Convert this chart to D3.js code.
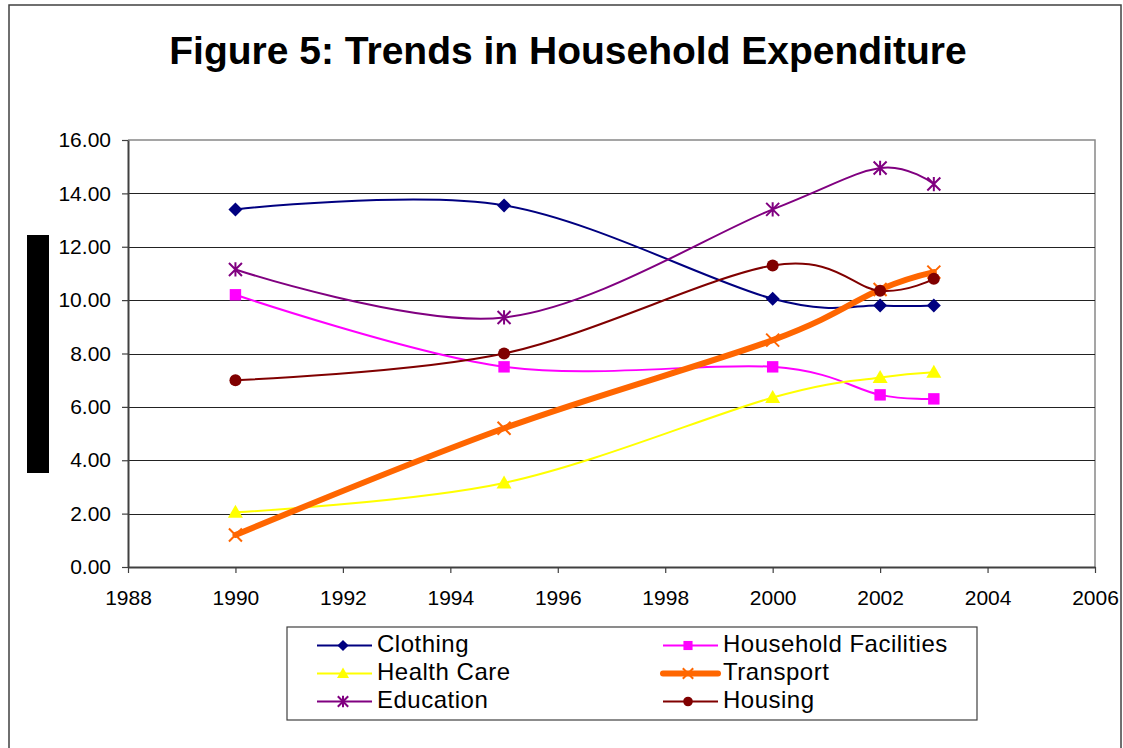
<!DOCTYPE html>
<html>
<head>
<meta charset="utf-8">
<script src="https://cdn.jsdelivr.net/npm/d3@7"></script>
<style>
  html, body { margin: 0; padding: 0; background: #fff; }
  svg { display: block; font-family: "Liberation Sans", Arial, sans-serif; }
</style>
</head>
<body>
<svg id="chart" width="1123" height="748"></svg>
<script>
// ---- Data ----
const years = [1990, 1995, 2000, 2002, 2003];
const clothing = [13.4, 13.55, 10.05, 9.8, 9.8];
const householdFacilities = [10.2, 7.5, 7.5, 6.45, 6.3];
const healthCare = [2.05, 3.15, 6.35, 7.1, 7.3];
const transport = [1.2, 5.2, 8.5, 10.4, 11.05];
const education = [11.15, 9.35, 13.4, 14.95, 14.35];
const housing = [7.0, 8.0, 11.3, 10.35, 10.8];
const seriesNames = ["Clothing", "Household Facilities", "Health Care", "Transport", "Education", "Housing"];
const yTicks = [0, 2, 4, 6, 8, 10, 12, 14, 16];
const xTicks = [1988, 1990, 1992, 1994, 1996, 1998, 2000, 2002, 2004, 2006];
const titleText = "Figure 5: Trends in Household Expenditure";

const seriesValues = [clothing, householdFacilities, healthCare, transport, education, housing];
const styles = [
  { color: "#000080", width: 2, marker: "diamond" },
  { color: "#FF00FF", width: 2, marker: "square" },
  { color: "#FFFF00", width: 2, marker: "triangle" },
  { color: "#FF6600", width: 6, marker: "x" },
  { color: "#800080", width: 2, marker: "star" },
  { color: "#800000", width: 2, marker: "circle" }
];

const svg = d3.select("#chart");

// Outer frame
svg.append("rect").attr("x", 9).attr("y", 5).attr("width", 1112).attr("height", 800)
  .attr("fill", "#fff").attr("stroke", "#404040").attr("stroke-width", 1.5);

// Title
svg.append("text").attr("x", 568).attr("y", 64).attr("text-anchor", "middle")
  .attr("font-size", 39).attr("font-weight", "bold").attr("fill", "#000").text(titleText);

// Black block (y-axis title placeholder)
svg.append("rect").attr("x", 27).attr("y", 235).attr("width", 22).attr("height", 238).attr("fill", "#000");

const x = d3.scaleLinear().domain([1988, 2006]).range([128, 1095]);
const y = d3.scaleLinear().domain([0, 16]).range([567, 140]);

// Plot border (top/right)
svg.append("path")
  .attr("d", `M${x(1988)},${y(16)}H${x(2006)}V${y(0)}`)
  .attr("fill", "none").attr("stroke", "#888").attr("stroke-width", 1.5);

// Gridlines
svg.append("g").selectAll("line").data(yTicks.filter(d => d > 0 && d < 16)).join("line")
  .attr("x1", x(1988)).attr("x2", x(2006))
  .attr("y1", d => Math.round(y(d)) + 0.5).attr("y2", d => Math.round(y(d)) + 0.5)
  .attr("stroke", "#222").attr("stroke-width", 1);

// Axes
const yAxis = svg.append("g").attr("transform", `translate(${x(1988)},0)`)
  .call(d3.axisLeft(y).tickValues(yTicks).tickFormat(d3.format(".2f")).tickSize(6).tickSizeOuter(0).tickPadding(11));
const xAxis = svg.append("g").attr("transform", `translate(0,${y(0)})`)
  .call(d3.axisBottom(x).tickValues(xTicks).tickFormat(d3.format("d")).tickSize(6).tickSizeOuter(0).tickPadding(17));
[yAxis, xAxis].forEach(a => {
  a.select(".domain").attr("stroke", "#404040").attr("stroke-width", 2);
  a.selectAll(".tick line").attr("stroke", "#404040").attr("stroke-width", 1.2);
  a.selectAll(".tick text").attr("font-size", 21).attr("fill", "#000")
    .attr("font-family", "'Liberation Sans', Arial, sans-serif");
});

// Marker drawing
function drawMarker(g, type, color, s) {
  s = s || 1;
  if (type === "diamond") {
    g.append("path").attr("d", `M0,${-7*s}L${7*s},0L0,${7*s}L${-7*s},0Z`).attr("fill", color);
  } else if (type === "square") {
    g.append("rect").attr("x", -5.7*s).attr("y", -5.7*s).attr("width", 11.4*s).attr("height", 11.4*s).attr("fill", color);
  } else if (type === "triangle") {
    g.append("path").attr("d", `M0,${-7.5*s}L${7.5*s},${5.5*s}L${-7.5*s},${5.5*s}Z`).attr("fill", color);
  } else if (type === "circle") {
    g.append("circle").attr("r", 6*s).attr("fill", color);
  } else if (type === "x") {
    const r = 6.5*s;
    g.append("path").attr("d", `M${-r},${-r}L${r},${r}M${-r},${r}L${r},${-r}`)
      .attr("stroke", color).attr("stroke-width", 2).attr("fill", "none");
  } else if (type === "star") {
    const r = 6.5*s;
    g.append("path").attr("d", `M${-r},${-r}L${r},${r}M${-r},${r}L${r},${-r}M0,${-r*1.1}L0,${r*1.1}`)
      .attr("stroke", color).attr("stroke-width", 2).attr("fill", "none");
  }
}

const line = d3.line().x(d => x(d[0])).y(d => y(d[1])).curve(d3.curveCardinal.tension(0));

seriesValues.forEach((vals, i) => {
  const st = styles[i];
  const pts = years.map((yr, j) => [yr, vals[j]]);
  const g = svg.append("g");
  g.append("path").attr("d", line(pts)).attr("fill", "none")
    .attr("stroke", st.color).attr("stroke-width", st.width)
    .attr("stroke-linejoin", "round").attr("stroke-linecap", "round");
  pts.forEach(p => {
    const mg = g.append("g").attr("transform", `translate(${x(p[0])},${y(p[1])})`);
    drawMarker(mg, st.marker, st.color, 1);
  });
});

// Legend
svg.append("rect").attr("x", 287).attr("y", 627).attr("width", 690).attr("height", 93)
  .attr("fill", "#fff").attr("stroke", "#404040").attr("stroke-width", 1.2);
const colX = [{ l1: 317, l2: 372, m: 343, t: 377 }, { l1: 663, l2: 718, m: 688, t: 723 }];
const rowY = [645.5, 673.5, 701.5];
seriesNames.forEach((name, i) => {
  const c = colX[i % 2], ry = rowY[Math.floor(i / 2)];
  const st = styles[i];
  const g = svg.append("g");
  g.append("line").attr("x1", c.l1).attr("x2", c.l2).attr("y1", ry).attr("y2", ry)
    .attr("stroke", st.color).attr("stroke-width", st.width).attr("stroke-linecap", st.width > 3 ? "round" : "butt");
  const mg = g.append("g").attr("transform", `translate(${c.m},${ry})`);
  drawMarker(mg, st.marker, st.color, 0.8);
  g.append("text").attr("x", c.t).attr("y", ry + 6).attr("font-size", 24)
    .attr("letter-spacing", 0.5).attr("fill", "#000").text(name);
});
</script>
</body>
</html>
